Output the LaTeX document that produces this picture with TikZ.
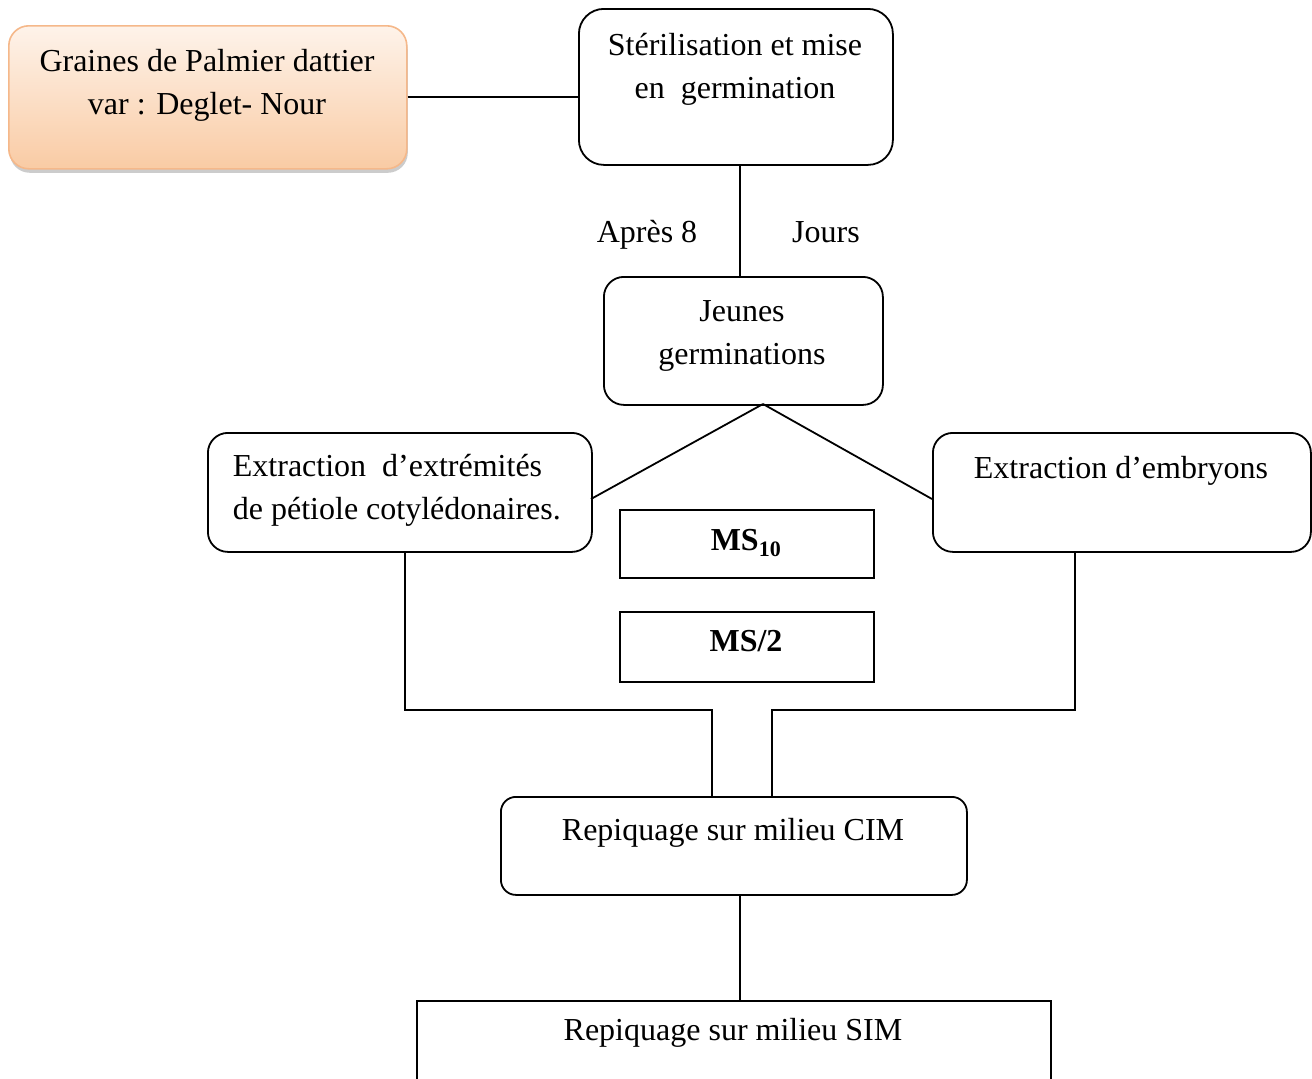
\documentclass[tikz,border=0pt]{standalone}
\usepackage{fontspec}
\setmainfont{Liberation Serif}
\usetikzlibrary{shadows}
\definecolor{peachtop}{HTML}{FEF3EA}
\definecolor{peachbot}{HTML}{F9CBA4}
\definecolor{peachline}{HTML}{F5B88A}
\begin{document}
\begin{tikzpicture}[x=1pt,y=-1pt,
  line width=1.8pt,
  box/.style={draw=black, line width=1.8pt, rounded corners=20pt, inner sep=0pt, anchor=north west},
  sbox/.style={draw=black, line width=1.6pt, inner sep=0pt, anchor=north west},
  txt/.style={font=\fontsize{32}{43}\selectfont, align=center, inner sep=0pt, anchor=base},
  conn/.style={draw=black, line width=1.8pt}
]
\useasboundingbox (0,0) rectangle (1312,1079);
\clip (0,0) rectangle (1312,1079);
% boxes
\node[box, draw=peachline, line width=1.6pt, top color=peachtop, bottom color=peachbot,
  drop shadow={shadow xshift=1pt, shadow yshift=-4pt, fill=black!40, opacity=.5},
  minimum width=398pt, minimum height=143pt] (seed) at (8,25) {};
\node[box, rounded corners=25pt, minimum width=314pt, minimum height=156pt] (ster) at (578,8) {};
\node[box, minimum width=279pt, minimum height=128pt] (jeun) at (603,276) {};
\node[box, minimum width=384pt, minimum height=119pt] (extl) at (207,432) {};
\node[box, minimum width=378pt, minimum height=119pt] (extr) at (932,432) {};
\node[sbox, minimum width=254pt, minimum height=68pt] (ms10) at (619,509) {};
\node[sbox, minimum width=254pt, minimum height=70pt] (ms2) at (619,611) {};
\node[box, rounded corners=15pt, minimum width=466pt, minimum height=98pt] (cim) at (500,796) {};
\node[sbox, line width=1.8pt, minimum width=634pt, minimum height=120pt] (sim) at (416,1000) {};
% texts
\node[txt] (tseed) at (207,114) {Graines de Palmier dattier\\var : Deglet- Nour};
\node[txt] (tster) at (735,98) {Stérilisation et mise\\en\enspace germination};
\node[txt] (tapres) at (647,242) {Après 8};
\node[txt] (tjours) at (826,242) {Jours};
\node[txt] (tjeun) at (742,364) {Jeunes\\germinations};
\node[txt, align=left, anchor=base west] (textl) at (232,519) {Extraction\enspace d’extrémités\\de pétiole cotylédonaires.};
\node[txt] (textr) at (1121,478) {Extraction d’embryons};
\node[txt] (tms10) at (746,550) {\textbf{MS\textsubscript{\fontsize{22}{22}\selectfont 10}}};
\node[txt] (tms2) at (746,651) {\textbf{MS/2}};
\node[txt] (tcim) at (733,840) {Repiquage sur milieu CIM};
\node[txt] (tsim) at (733,1040) {Repiquage sur milieu SIM};
% connectors
\coordinate (jb) at (763,404);
\draw[conn] (seed.east) -- (ster.west |- seed.east);
\draw[conn] (ster.south -| 740,0) -- (jeun.north -| 740,0);
\draw[conn] (jb) -- (591,499);
\draw[conn] (jb) -- (932,499);
\draw[conn] (extl.south -| 405,0) |- (712,710) -- (cim.north -| 712,0);
\draw[conn] (extr.south -| 1075,0) |- (772,710) -- (cim.north -| 772,0);
\draw[conn] (cim.south -| 740,0) -- (sim.north -| 740,0);
\end{tikzpicture}
\end{document}
